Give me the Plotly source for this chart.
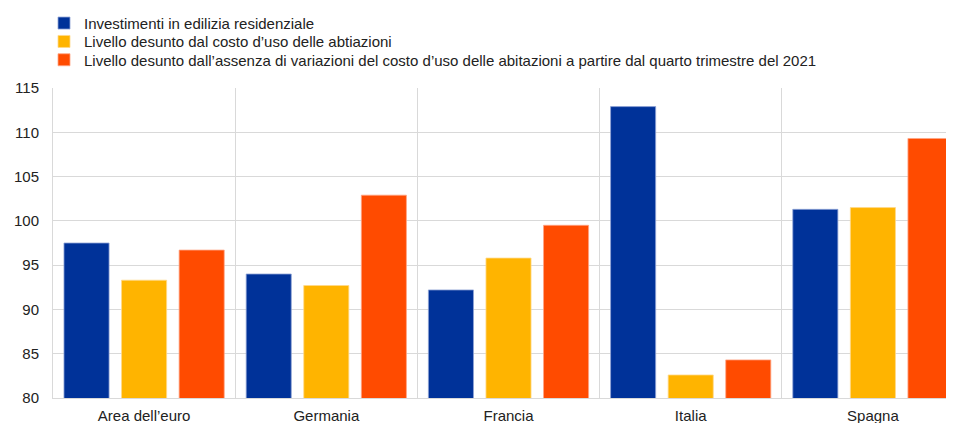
import plotly.graph_objects as go

categories = ["Area dell\u2019euro", "Germania", "Francia", "Italia", "Spagna"]
investimenti = [97.5, 94.0, 92.2, 112.9, 101.3]
costo_uso = [93.3, 92.7, 95.8, 82.6, 101.5]
assenza_var = [96.7, 102.9, 99.5, 84.3, 109.3]

names = [
    "Investimenti in edilizia residenziale",
    "Livello desunto dal costo d\u2019uso delle abtiazioni",
    "Livello desunto dall\u2019assenza di variazioni del costo d\u2019uso delle abitazioni a partire dal quarto trimestre del 2021",
]
colors = ["#003299", "#FFB400", "#FF4B00"]
edges = ["#8FA3D6", "#FFD98A", "#FFA585"]
legend_ids = ["legend", "legend2", "legend3"]

W, H = 946, 415

fig = go.Figure()
for vals, nm, c, e, lg in zip([investimenti, costo_uso, assenza_var], names, colors, edges, legend_ids):
    fig.add_trace(go.Bar(x=categories, y=vals, name=nm, legend=lg,
                         marker=dict(color=c, line=dict(color=e, width=0.8))))

legend_rows = [15.3, 33.7, 52.0]
leg_common = dict(xref="container", yref="container", xanchor="left", yanchor="middle",
                  font=dict(size=15, color="#222"), bgcolor="rgba(0,0,0,0)",
                  itemclick=False, itemdoubleclick=False)

fig.update_layout(
    width=W, height=H,
    margin=dict(l=45, r=0, t=80, b=25, autoexpand=False),
    paper_bgcolor="white", plot_bgcolor="white",
    font=dict(family="Liberation Sans, Arial, sans-serif", size=15, color="#222"),
    barmode="group", bargap=0.052, bargroupgap=0.217,
    showlegend=True,
    legend=dict(x=36 / W, y=1 - legend_rows[0] / H, **leg_common),
    legend2=dict(x=36 / W, y=1 - legend_rows[1] / H, **leg_common),
    legend3=dict(x=36 / W, y=1 - legend_rows[2] / H, **leg_common),
    xaxis=dict(
        range=[-0.5, 4.5 - 10 / 182], tickson="boundaries", showgrid=True,
        gridcolor="#D9D9D9", gridwidth=1, ticks="", showline=True,
        linecolor="#D9D9D9", linewidth=1, mirror=False, fixedrange=True,
        tickangle=0, automargin=False, ticklabelstandoff=4,
    ),
    yaxis=dict(
        range=[80, 115], dtick=5, showgrid=True, gridcolor="#D9D9D9",
        gridwidth=1, zeroline=False, ticks="", ticklabelstandoff=10,
        showline=True, linecolor="#D9D9D9", fixedrange=True, automargin=False,
    ),
)

fig.write_html("out.html")
